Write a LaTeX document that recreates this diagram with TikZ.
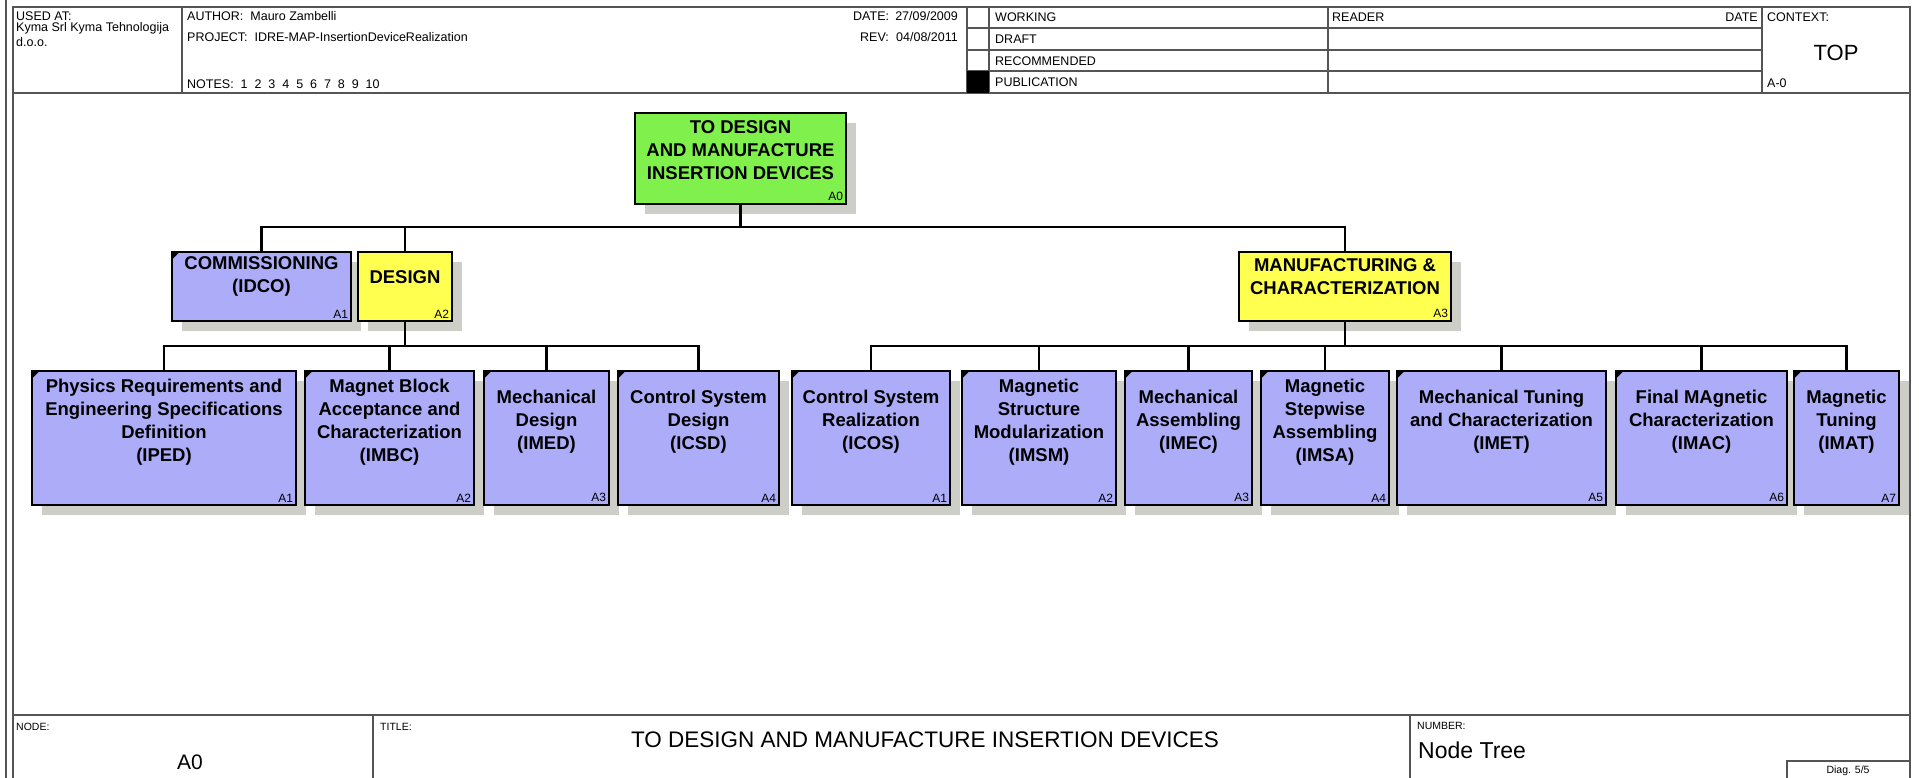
\documentclass[tikz,border=0pt]{standalone}
\usepackage{fontspec}
\setmainfont{Liberation Sans}
\usetikzlibrary{shadows}
\definecolor{leafblue}{RGB}{172,172,248}
\definecolor{topgreen}{RGB}{128,240,76}
\definecolor{midyellow}{RGB}{255,255,80}
\definecolor{shadowgray}{RGB}{206,206,200}
\definecolor{framegray}{RGB}{85,85,85}
\newcommand{\setfs}[2]{\fontsize{#1}{#2}\selectfont}
\begin{document}
\begin{tikzpicture}[x=1pt,y=-1pt,
  frame/.style={framegray,line width=1.3pt},
  box/.style={draw,line width=2.4pt,inner sep=0pt,
    drop shadow={shadow xshift=10pt,shadow yshift=-10pt,fill=shadowgray,opacity=1}},
  leaf/.style={box,fill=leafblue,minimum height=134pt},
  mid/.style={box,minimum height=69pt},
  num/.style={anchor=south east,inner sep=4pt,font=\setfs{12}{13}},
  txt/.style={align=center,inner sep=0pt,font=\bfseries\setfs{18.5}{23}},
  head/.style={anchor=west,inner sep=0pt,font=\setfs{12.5}{14}},
  tiny/.style={anchor=west,inner sep=0pt,font=\setfs{10.5}{12}},
  conn/.style={line width=2.2pt}]
\useasboundingbox (0,0) rectangle (1919,778);

% sheet frame and header
\draw[frame] (6,0) -- (6,778);
\draw[frame] (13,7) rectangle (1910,800);
\draw[frame] (13,93) -- (1910,93);
\draw[frame] (182,7) -- (182,93);
\draw[frame] (967,7) -- (967,93);
\draw[frame] (989,7) -- (989,93);
\draw[frame] (1328,7) -- (1328,93);
\draw[frame] (1762,7) -- (1762,93);
\draw[frame] (967,28) -- (1762,28);
\draw[frame] (967,50) -- (1762,50);
\draw[frame] (967,71) -- (1762,71);
\fill (967,71) rectangle (989,93);

\node[head] (used) at (16,16) {USED AT:};
\node[head] (usedby) at (16,28) {Kyma Srl Kyma Tehnologija};
\node[head] (usedby2) at (16,42) {d.o.o.};
\node[head] (author) at (187,16) {AUTHOR:~~Mauro Zambelli};
\node[head] (project) at (187,37) {PROJECT:~~IDRE-MAP-InsertionDeviceRealization};
\node[head] (notes) at (187,84) {NOTES:~~1~~2~~3~~4~~5~~6~~7~~8~~9~~10};
\node[head] (date) at (853,16) {DATE:};
\node[head,anchor=east] (dateval) at (958,16) {27/09/2009};
\node[head] (rev) at (860,37) {REV:};
\node[head,anchor=east] (revval) at (958,37) {04/08/2011};
\node[head] (working) at (995,17) {WORKING};
\node[head] (draft) at (995,39) {DRAFT};
\node[head] (recom) at (995,61) {RECOMMENDED};
\node[head] (publi) at (995,82) {PUBLICATION};
\node[head] (reader) at (1332,17) {READER};
\node[head,anchor=east] (rdate) at (1758,17) {DATE};
\node[head] (context) at (1767,17) {CONTEXT:};
\node[inner sep=0pt,font=\setfs{22}{24}] (top) at (1836,53) {TOP};
\node[head] (aminus) at (1767,83) {A-0};

% footer
\draw[frame] (13,715) -- (1910,715);
\draw[frame] (373,715) -- (373,800);
\draw[frame] (1410,715) -- (1410,800);
\draw[frame] (1787,761) rectangle (1910,800);
\node[tiny] (nodelbl) at (16,727) {NODE:};
\node[inner sep=0pt,font=\setfs{21}{23}] (nodeval) at (190,762) {A0};
\node[tiny] (titlelbl) at (380,727) {TITLE:};
\node[inner sep=0pt,font=\setfs{22.5}{24}] (title) at (925,740) {TO DESIGN AND MANUFACTURE INSERTION DEVICES};
\node[tiny] (numlbl) at (1417,726) {NUMBER:};
\node[anchor=west,inner sep=0pt,font=\setfs{23}{25}] (numval) at (1418,750) {Node Tree};
\node[inner sep=0pt,font=\setfs{10.5}{12}] (diag) at (1848,771) {Diag. 5/5};

% top box
\node[box,fill=topgreen,minimum width=211pt,minimum height=91pt,label={[num]south east:A0}] (a0) at (740.5,158.5) {};
\node[txt] (a0t) at ([yshift=8pt]a0.center) {TO DESIGN\\AND MANUFACTURE\\INSERTION DEVICES};

% first level
\node[mid,fill=leafblue,minimum width=179pt,label={[num]south east:A1}] (idco) at (261.5,286.5) {};
\node[txt] (idcot) at ([yshift=10pt]idco.center) {COMMISSIONING\\(IDCO)};
\node[mid,fill=midyellow,minimum width=94pt,label={[num]south east:A2}] (design) at (405,286.5) {};
\node[txt] (designt) at ([yshift=9pt]design.center) {DESIGN};
\node[mid,fill=midyellow,minimum width=212pt,label={[num]south east:A3}] (manu) at (1345,286.5) {};
\node[txt] (manut) at ([yshift=10pt]manu.center) {MANUFACTURING \&\\CHARACTERIZATION};

% design children
\node[leaf,minimum width=264pt,label={[num]south east:A1}] (iped) at (164,438) {};
\node[txt] (ipedt) at ([yshift=16pt]iped.center) {Physics Requirements and\\Engineering Specifications\\Definition\\(IPED)};
\node[leaf,minimum width=169pt,label={[num]south east:A2}] (imbc) at (389.5,438) {};
\node[txt] (imbct) at ([yshift=16pt]imbc.center) {Magnet Block\\Acceptance and\\Characterization\\(IMBC)};
\node[leaf,minimum width=125pt,label={[num]south east:A3}] (imed) at (546.5,438) {};
\node[txt] (imedt) at ([yshift=16pt]imed.center) {Mechanical\\Design\\(IMED)};
\node[leaf,minimum width=161pt,label={[num]south east:A4}] (icsd) at (698.5,438) {};
\node[txt] (icsdt) at ([yshift=16pt]icsd.center) {Control System\\Design\\(ICSD)};

% manufacturing children
\node[leaf,minimum width=158pt,label={[num]south east:A1}] (icos) at (871,438) {};
\node[txt] (icost) at ([yshift=16pt]icos.center) {Control System\\Realization\\(ICOS)};
\node[leaf,minimum width=154pt,label={[num]south east:A2}] (imsm) at (1039,438) {};
\node[txt] (imsmt) at ([yshift=16pt]imsm.center) {Magnetic\\Structure\\Modularization\\(IMSM)};
\node[leaf,minimum width=127pt,label={[num]south east:A3}] (imec) at (1188.5,438) {};
\node[txt] (imect) at ([yshift=16pt]imec.center) {Mechanical\\Assembling\\(IMEC)};
\node[leaf,minimum width=128pt,label={[num]south east:A4}] (imsa) at (1325,438) {};
\node[txt] (imsat) at ([yshift=16pt]imsa.center) {Magnetic\\Stepwise\\Assembling\\(IMSA)};
\node[leaf,minimum width=209pt,label={[num]south east:A5}] (imet) at (1501.5,438) {};
\node[txt] (imett) at ([yshift=16pt]imet.center) {Mechanical Tuning\\and Characterization\\(IMET)};
\node[leaf,minimum width=171pt,label={[num]south east:A6}] (imac) at (1701.5,438) {};
\node[txt] (imact) at ([yshift=16pt]imac.center) {Final MAgnetic\\Characterization\\(IMAC)};
\node[leaf,minimum width=105pt,label={[num]south east:A7}] (imat) at (1846.5,438) {};
\node[txt] (imatt) at ([yshift=16pt]imat.center) {Magnetic\\Tuning\\(IMAT)};

% corner marks of the blue boxes
\foreach \n in {idco,iped,imbc,imed,icsd,icos,imsm,imec,imsa,imet,imac,imat}
  \fill ([shift={(1pt,-1pt)}]\n.north west) -- ++(8pt,0pt) -- ++(-8pt,-8pt) -- cycle;

% connectors
\draw[conn] (a0.south) -- ++(0,22) -| (idco.north);
\draw[conn] (a0.south) -- ++(0,22) -| (design.north);
\draw[conn] (a0.south) -- ++(0,22) -| (manu.north);
\draw[conn] (design.south) -- ++(0,24) -| (iped.north);
\draw[conn] (design.south) -- ++(0,24) -| (imbc.north);
\draw[conn] (design.south) -- ++(0,24) -| (imed.north);
\draw[conn] (design.south) -- ++(0,24) -| (icsd.north);
\draw[conn] (manu.south) -- ++(0,24) -| (icos.north);
\draw[conn] (manu.south) -- ++(0,24) -| (imsm.north);
\draw[conn] (manu.south) -- ++(0,24) -| (imec.north);
\draw[conn] (manu.south) -- ++(0,24) -| (imsa.north);
\draw[conn] (manu.south) -- ++(0,24) -| (imet.north);
\draw[conn] (manu.south) -- ++(0,24) -| (imac.north);
\draw[conn] (manu.south) -- ++(0,24) -| (imat.north);
\end{tikzpicture}
\end{document}
